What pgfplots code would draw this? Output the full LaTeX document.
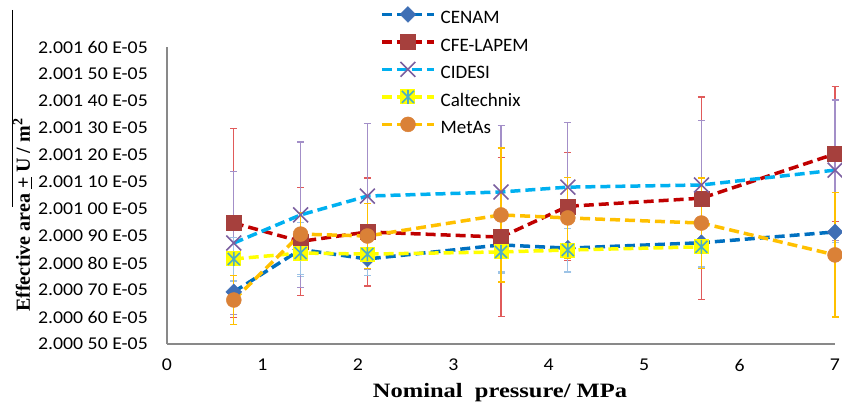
\documentclass[border=0pt]{standalone}
\usepackage{pgfplots}
\usepackage{pgfplotstable}
\pgfplotsset{compat=1.18}
\usepackage{fontspec}
\setmainfont{Carlito}
\newfontfamily\tickfont{Carlito}[FakeStretch=1.1]
\newfontfamily\labfont{Liberation Serif}[FakeStretch=1.2]
\newfontfamily\ylabfont{Liberation Serif}

\definecolor{axgray}{HTML}{898989}
\definecolor{cenamline}{HTML}{0070C0}
\definecolor{cenammark}{HTML}{3F6FB5}
\definecolor{cenamerr}{HTML}{9DC3E6}
\definecolor{cfeline}{HTML}{C00000}
\definecolor{cfemark}{HTML}{A6403D}
\definecolor{cfeerr}{HTML}{E05A5A}
\definecolor{cidline}{HTML}{00B0F0}
\definecolor{cidmark}{HTML}{7B5FA0}
\definecolor{ciderr}{HTML}{A38FC8}
\definecolor{calline}{HTML}{FFFF00}
\definecolor{calstar}{HTML}{4BACC6}
\definecolor{calerr}{HTML}{9DC3E6}
\definecolor{metline}{HTML}{FFC000}
\definecolor{metmark}{HTML}{DA8137}
\definecolor{meterr}{HTML}{FFC000}

\pgfdeclareplotmark{calt}{%
  \pgfsetfillcolor{calline}%
  \pgfpathrectangle{\pgfqpoint{-7.5pt}{-7.5pt}}{\pgfqpoint{15pt}{15pt}}%
  \pgfusepathqfill
  \pgfsetstrokecolor{calstar}\pgfsetlinewidth{1.6pt}%
  \pgfpathmoveto{\pgfqpoint{0pt}{-7pt}}\pgfpathlineto{\pgfqpoint{0pt}{7pt}}%
  \pgfpathmoveto{\pgfqpoint{-6pt}{-6pt}}\pgfpathlineto{\pgfqpoint{6pt}{6pt}}%
  \pgfpathmoveto{\pgfqpoint{-6pt}{6pt}}\pgfpathlineto{\pgfqpoint{6pt}{-6pt}}%
  \pgfusepathqstroke
}

% values: y = last digits of effective area, i.e. 2.000 xx E-05 -> xx (2.001 xx -> 1xx)
\pgfplotstableread{
x   y     e
0.7 69.3  4
1.4 85.0  10
2.1 81.5  4
3.5 86.7  10
4.2 85.5  9
5.6 87.5  9
7.0 91.5  4
}\cenam
\pgfplotstableread{
x   y     e
0.7 94.8  35
1.4 88.0  20
2.1 91.5  20
3.5 89.6  29.5
4.2 101.0 20
5.6 104.0 37.5
7.0 120.4 25
}\cfe
\pgfplotstableread{
x   y     e
0.7 87.4  26.5
1.4 97.8  27
2.1 104.8 27
3.5 106.3 24.5
4.2 108.1 24
5.6 108.9 24
7.0 114.4 26
}\cidesi
\pgfplotstableread{
x   y     e
0.7 81.5  8
1.4 83.7  8
2.1 83.3  8
3.5 84.1  8
4.2 84.8  8
5.6 86.0  8
}\calt
\pgfplotstableread{
x   y     e
0.7 66.3  9
1.4 90.7  8
2.1 90.0  12
3.5 97.8  24.8
4.2 96.7  15
5.6 94.8  16.7
7.0 83.0  23
}\metas

\begin{document}
\begin{tikzpicture}
\useasboundingbox (0,0) rectangle (842pt,405pt);
\draw[black, line width=1pt] (12pt,395pt) -- (12pt,198pt);
\begin{axis}[
  at={(167pt,61pt)}, anchor=south west,
  scale only axis, width=668pt, height=297pt,
  xmin=0, xmax=7, ymin=50, ymax=160,
  clip=false,
  axis x line*=bottom, axis y line*=left,
  axis line style={draw=axgray, line width=1.5pt},
  xtick={0,1,2,3,4,5,6,7},
  xticklabels={0,1,2,3,4,5,6,7},
  ytick={50,60,70,80,90,100,110,120,130,140,150,160},
  yticklabels={2.000 50 E-05,2.000 60 E-05,2.000 70 E-05,2.000 80 E-05,2.000 90 E-05,2.001 00 E-05,2.001 10 E-05,2.001 20 E-05,2.001 30 E-05,2.001 40 E-05,2.001 50 E-05,2.001 60 E-05},
  major tick length=0pt,
  tick label style={font=\tickfont\fontsize{18}{20}\selectfont, text=black},
  yticklabel style={inner sep=0pt, xshift=-19pt},
  xticklabel style={inner sep=0pt, yshift=-15pt},
  xlabel={Nominal\ \ pressure/ MPa},
  xlabel style={font=\labfont\bfseries\fontsize{20.4}{24}\selectfont, at={(axis description cs:0.4985,-0.162)}, anchor=center},
  ylabel={Effective area \underline{+} U / m\textsuperscript{2}},
  ylabel style={font=\ylabfont\bfseries\fontsize{20}{24}\selectfont, at={(axis description cs:-0.2163,0.4343)}, anchor=center},
  legend style={at={(axis description cs:0.3189,1.137)}, anchor=north west, draw=none, fill=none,
    font=\fontsize{19}{22}\selectfont, row sep=6.5pt, inner sep=0pt,
    nodes={inner sep=0pt, text height=13pt, text depth=4pt}, column sep=5pt},
  legend cell align=left,
  legend image code/.code={\draw[mark repeat=2,mark phase=2,#1] plot coordinates {(0pt,5pt) (26pt,5pt) (52pt,5pt)};},
  every axis plot/.append style={line width=3.5pt, dash pattern=on 10pt off 5pt},
]
\addplot[cenamline, mark=square*, mark size=5.6pt,
  mark options={solid, rotate=45, fill=cenammark, draw=cenammark, line width=0.4pt},
  error bars/.cd, y dir=both, y explicit,
  error bar style={solid, line width=1.2pt, color=cenamerr},
  error mark options={solid, rotate=90, mark size=3.5pt, line width=1.2pt, color=cenamerr}]
  table[x=x, y=y, y error=e] {\cenam};
\addlegendentry{CENAM}
\addplot[cfeline, mark=square*, mark size=7.5pt,
  mark options={solid, fill=cfemark, draw=cfemark, line width=0.4pt},
  error bars/.cd, y dir=both, y explicit,
  error bar style={solid, line width=1.2pt, color=cfeerr},
  error mark options={solid, rotate=90, mark size=3.5pt, line width=1.2pt, color=cfeerr}]
  table[x=x, y=y, y error=e] {\cfe};
\addlegendentry{CFE-LAPEM}
\addplot[cidline, mark=x, mark size=10.5pt,
  mark options={solid, draw=cidmark, line width=1.6pt},
  error bars/.cd, y dir=both, y explicit,
  error bar style={solid, line width=1.2pt, color=ciderr},
  error mark options={solid, rotate=90, mark size=3.5pt, line width=1.2pt, color=ciderr}]
  table[x=x, y=y, y error=e] {\cidesi};
\addlegendentry{CIDESI}
\addplot[calline, mark=calt,
  mark options={solid},
  error bars/.cd, y dir=both, y explicit,
  error bar style={solid, line width=1.2pt, color=calerr},
  error mark options={solid, rotate=90, mark size=3.5pt, line width=1.2pt, color=calerr}]
  table[x=x, y=y, y error=e] {\calt};
\addlegendentry{Caltechnix}
\addplot[metline, mark=*, mark size=7.5pt,
  mark options={solid, fill=metmark, draw=metmark, line width=0.4pt},
  error bars/.cd, y dir=both, y explicit,
  error bar style={solid, line width=1.2pt, color=meterr},
  error mark options={solid, rotate=90, mark size=3.5pt, line width=1.2pt, color=meterr}]
  table[x=x, y=y, y error=e] {\metas};
\addlegendentry{MetAs}
\end{axis}
\end{tikzpicture}
\end{document}
